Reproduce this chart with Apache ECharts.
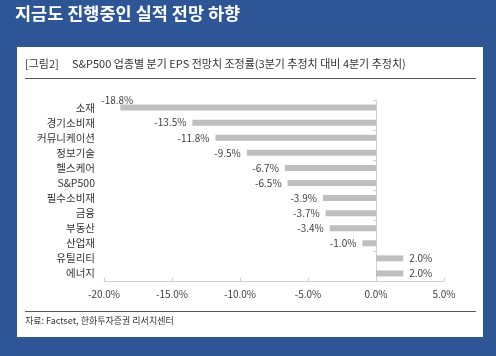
<!DOCTYPE html>
<html><head><meta charset="utf-8">
<script src="https://cdn.jsdelivr.net/npm/echarts@6/dist/echarts.min.js"></script>
<style>html,body{margin:0;padding:0;background:#2e5596;}#c{width:496px;height:356px;}</style>
</head><body><div id="c"></div>
<script>
const categories = ['소재','경기소비재','커뮤니케이션','정보기술','헬스케어','S&P500','필수소비재','금융','부동산','산업재','유틸리티','에너지'];
const values = [-18.8,-13.5,-11.8,-9.5,-6.7,-6.5,-3.9,-3.7,-3.4,-1.0,2.0,2.0];
const xTicks = [-20,-15,-10,-5,0,5];

const FONT = '"Noto Sans CJK KR","Noto Sans",sans-serif';
const chart = echarts.init(document.getElementById('c'));
chart.setOption({
  backgroundColor: '#2e5596',
  animation: false,
  textStyle: {fontFamily: FONT},
  graphic: [
    {type:'text', left:15, top:5, style:{text:'지금도 진행중인 실적 전망 하향', fill:'#ffffff', font:'bold 17.5px '+FONT}},
    {type:'rect', shape:{x:17,y:47,width:466,height:290}, style:{fill:'#ffffff'}, z:-1},
    {type:'text', left:25, top:58, style:{text:'[그림2]', fill:'#333333', font:'11px '+FONT}},
    {type:'text', left:72, top:58, style:{text:'S&P500 업종별 분기 EPS 전망치 조정률(3분기 추정치 대비 4분기 추정치)', fill:'#333333', font:'11px '+FONT}},
    {type:'line', shape:{x1:25,y1:78.5,x2:476,y2:78.5}, style:{stroke:'#595959', lineWidth:1}},
    {type:'line', shape:{x1:25,y1:311.5,x2:476,y2:311.5}, style:{stroke:'#595959', lineWidth:1}},
    {type:'text', left:25, top:316, style:{text:'자료: Factset, 한화투자증권 리서치센터', fill:'#333333', font:'9px '+FONT}}
  ],
  grid: {left:104, right:52, top:100, bottom:75, containLabel:false},
  xAxis: {
    type:'value', min:-20, max:5, interval:5,
    axisLine:{show:true, lineStyle:{color:'#d0d0d0'}},
    axisTick:{show:true, inside:true, length:3, lineStyle:{color:'#d0d0d0'}},
    splitLine:{show:false},
    axisLabel:{color:'#404040', fontSize:10, margin:8, formatter: v => xTicks.includes(v) ? v.toFixed(1)+'%' : ''}
  },
  yAxis: [
    {type:'category', data:categories, inverse:true, position:'left',
     axisLine:{show:false, onZero:false}, axisTick:{show:false},
     axisLabel:{color:'#333333', fontSize:10.5, margin:9}},
    {type:'category', data:categories, inverse:true, position:'left',
     axisLine:{show:true, onZero:true, lineStyle:{color:'#d0d0d0'}},
     axisTick:{show:true, length:3, lineStyle:{color:'#d0d0d0'}},
     axisLabel:{show:false}}
  ],
  series: [{
    type:'bar', yAxisIndex:0, barWidth:6,
    data: values.map((v, i) => ({
      value: v,
      label: i === 0 ? {position:'left', offset:[19,-7]} : {position: v < 0 ? 'left' : 'right'}
    })),
    itemStyle:{color:'#bfbfbf'},
    label:{show:true, color:'#404040', fontSize:10, distance:6,
      formatter: p => p.value.toFixed(1)+'%'}
  }]
});
</script></body></html>
